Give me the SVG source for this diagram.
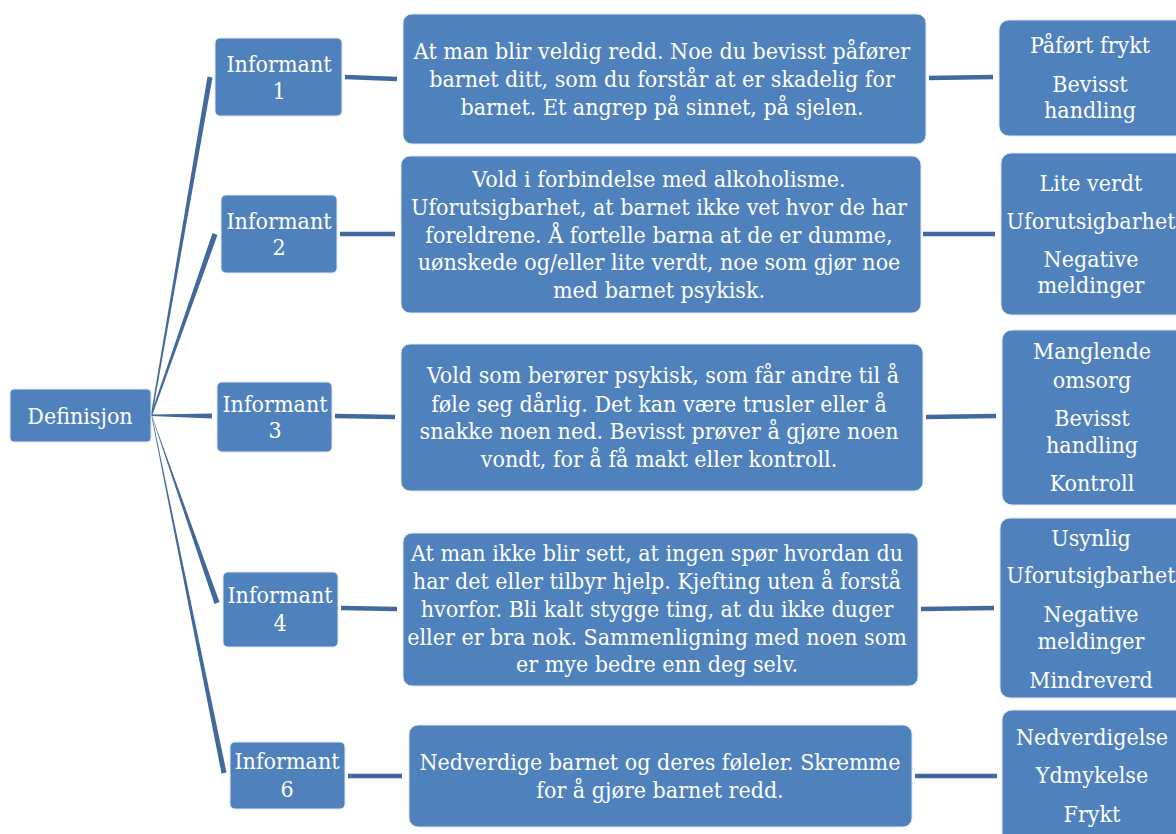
<svg xmlns="http://www.w3.org/2000/svg" width="1176" height="834" viewBox="0 0 1176 834">
<style>
.box{fill:#4f81bd;stroke:#dfe8f3;stroke-width:1}
.t{fill:#ffffff;font-family:"DejaVu Serif Condensed","DejaVu Serif",serif;font-stretch:condensed;font-size:23px;text-anchor:middle}
.ln{stroke:#41699c;stroke-width:4.5;fill:none}
.wd{fill:#41699c}
</style>
<rect width="1176" height="834" fill="#ffffff"/>
<g id="connectors">
<polygon class="wd" points="151,414 152,416 212.5,77.5 207.5,76.5"/>
<polygon class="wd" points="151,414 152,416 217.5,235 212.5,233"/>
<polygon class="wd" points="151,414.5 151,416 212,418.5 212,413.5"/>
<polygon class="wd" points="151,414 152,416 219.5,602 214.5,604"/>
<polygon class="wd" points="151,414 152,416 226.5,772.5 221.5,773.5"/>
<line class="ln" x1="345" y1="77" x2="397" y2="79"/>
<line class="ln" x1="929" y1="78" x2="993" y2="77"/>
<line class="ln" x1="340" y1="234" x2="395" y2="234"/>
<line class="ln" x1="923" y1="234" x2="995" y2="234"/>
<line class="ln" x1="335" y1="416" x2="395" y2="417"/>
<line class="ln" x1="926" y1="417" x2="996" y2="416"/>
<line class="ln" x1="341" y1="608" x2="397" y2="609"/>
<line class="ln" x1="921" y1="609" x2="994" y2="608"/>
<line class="ln" x1="348" y1="776" x2="402" y2="776"/>
<line class="ln" x1="915" y1="776" x2="997" y2="776"/>
</g>
<g id="definisjon">
<rect class="box" x="10" y="389" width="141" height="53" rx="4"/>
<text class="t" x="80" y="424">Definisjon</text>
</g>
<g id="informant1">
<rect class="box" x="215" y="38" width="127" height="78" rx="5"/>
<text class="t" x="279" y="72">Informant</text>
<text class="t" x="279" y="99">1</text>
</g>
<g id="informant2">
<rect class="box" x="221" y="195" width="116" height="78" rx="5"/>
<text class="t" x="279" y="229">Informant</text>
<text class="t" x="279" y="255">2</text>
</g>
<g id="informant3">
<rect class="box" x="217" y="382" width="115" height="70" rx="5"/>
<text class="t" x="275" y="412">Informant</text>
<text class="t" x="275" y="438">3</text>
</g>
<g id="informant4">
<rect class="box" x="223" y="572" width="115" height="75" rx="5"/>
<text class="t" x="280" y="603">Informant</text>
<text class="t" x="280" y="631">4</text>
</g>
<g id="informant6">
<rect class="box" x="230" y="742" width="115" height="67" rx="5"/>
<text class="t" x="287" y="769">Informant</text>
<text class="t" x="287" y="797">6</text>
</g>
<g id="desc1">
<rect class="box" x="403" y="14" width="523" height="130" rx="9"/>
<text class="t" x="662" y="59">At man blir veldig redd. Noe du bevisst påfører</text>
<text class="t" x="662" y="87">barnet ditt, som du forstår at er skadelig for</text>
<text class="t" x="662" y="115">barnet. Et angrep på sinnet, på sjelen.</text>
</g>
<g id="desc2">
<rect class="box" x="401" y="156" width="520" height="157" rx="9"/>
<text class="t" x="659" y="187">Vold i forbindelse med alkoholisme.</text>
<text class="t" x="659" y="215">Uforutsigbarhet, at barnet ikke vet hvor de har</text>
<text class="t" x="659" y="243">foreldrene. Å fortelle barna at de er dumme,</text>
<text class="t" x="659" y="270">uønskede og/eller lite verdt, noe som gjør noe</text>
<text class="t" x="659" y="298">med barnet psykisk.</text>
</g>
<g id="desc3">
<rect class="box" x="401" y="344" width="522" height="147" rx="9"/>
<text class="t" x="663" y="383">Vold som berører psykisk, som får andre til å</text>
<text class="t" x="659" y="412">føle seg dårlig. Det kan være trusler eller å</text>
<text class="t" x="659" y="439">snakke noen ned. Bevisst prøver å gjøre noen</text>
<text class="t" x="659" y="467">vondt, for å få makt eller kontroll.</text>
</g>
<g id="desc4">
<rect class="box" x="403" y="533" width="515" height="153" rx="9"/>
<text class="t" x="657" y="561">At man ikke blir sett, at ingen spør hvordan du</text>
<text class="t" x="657" y="589">har det eller tilbyr hjelp. Kjefting uten å forstå</text>
<text class="t" x="657" y="617">hvorfor. Bli kalt stygge ting, at du ikke duger</text>
<text class="t" x="657" y="645">eller er bra nok. Sammenligning med noen som</text>
<text class="t" x="657" y="672">er mye bedre enn deg selv.</text>
</g>
<g id="desc6">
<rect class="box" x="409" y="725" width="503" height="102" rx="9"/>
<text class="t" x="660" y="770">Nedverdige barnet og deres føleler. Skremme</text>
<text class="t" x="660" y="798">for å gjøre barnet redd.</text>
</g>
<g id="theme1">
<rect class="box" x="999" y="20" width="190" height="116" rx="10"/>
<text class="t" x="1090" y="53">Påført frykt</text>
<text class="t" x="1090" y="92">Bevisst</text>
<text class="t" x="1090" y="118">handling</text>
</g>
<g id="theme2">
<rect class="box" x="1001" y="153" width="190" height="162" rx="10"/>
<text class="t" x="1091" y="191">Lite verdt</text>
<text class="t" x="1091" y="229">Uforutsigbarhet</text>
<text class="t" x="1091" y="267">Negative</text>
<text class="t" x="1091" y="293">meldinger</text>
</g>
<g id="theme3">
<rect class="box" x="1002" y="330" width="190" height="175" rx="10"/>
<text class="t" x="1092" y="359">Manglende</text>
<text class="t" x="1092" y="388">omsorg</text>
<text class="t" x="1092" y="426">Bevisst</text>
<text class="t" x="1092" y="453">handling</text>
<text class="t" x="1092" y="491">Kontroll</text>
</g>
<g id="theme4">
<rect class="box" x="1000" y="518" width="190" height="180" rx="10"/>
<text class="t" x="1091" y="546">Usynlig</text>
<text class="t" x="1091" y="583">Uforutsigbarhet</text>
<text class="t" x="1091" y="622">Negative</text>
<text class="t" x="1091" y="649">meldinger</text>
<text class="t" x="1091" y="688">Mindreverd</text>
</g>
<g id="theme6">
<rect class="box" x="1002" y="710" width="190" height="140" rx="10"/>
<text class="t" x="1092" y="745">Nedverdigelse</text>
<text class="t" x="1092" y="783">Ydmykelse</text>
<text class="t" x="1092" y="822">Frykt</text>
</g>
</svg>
